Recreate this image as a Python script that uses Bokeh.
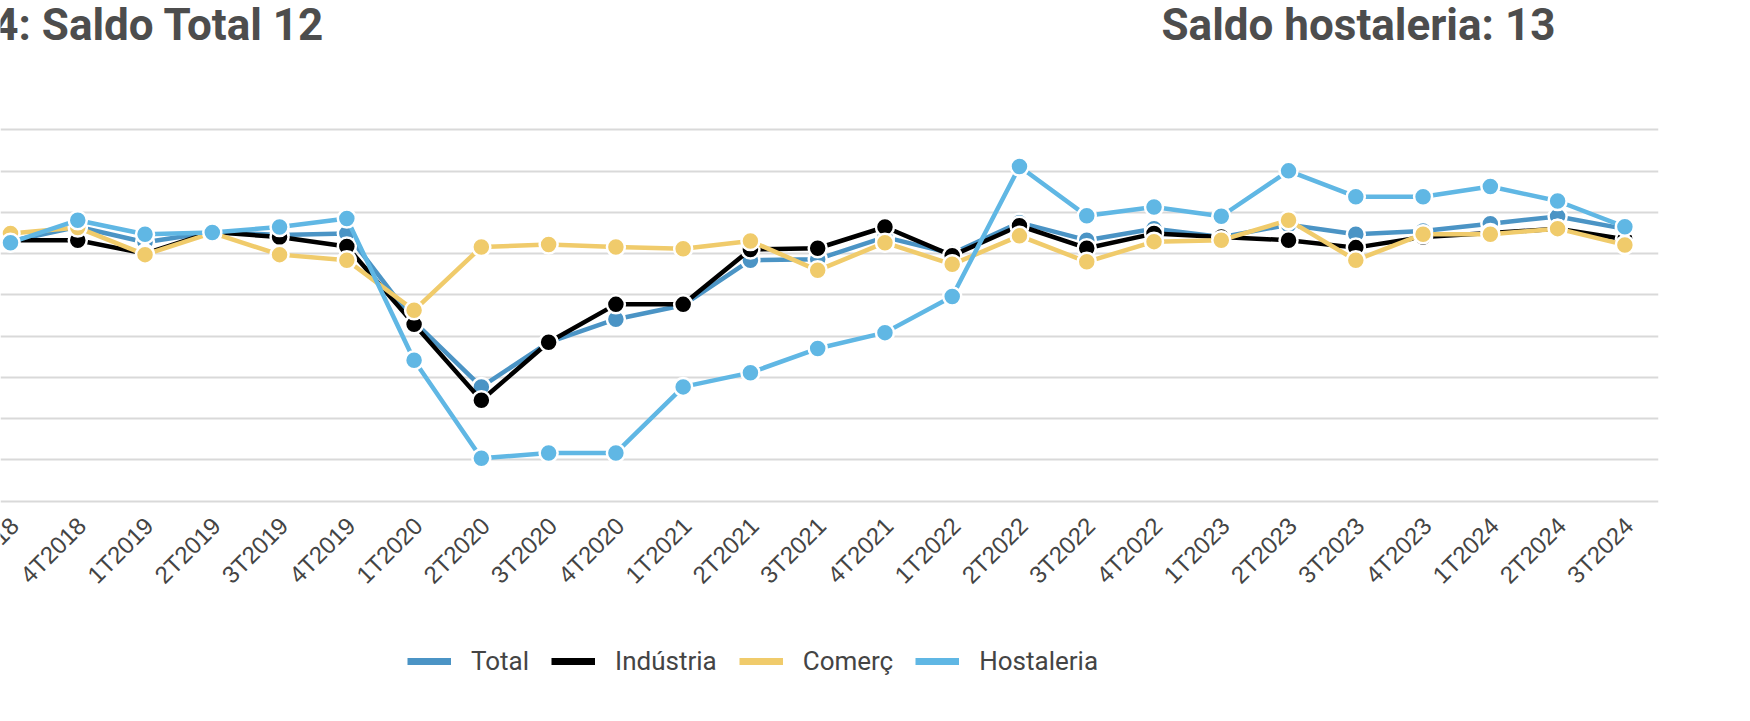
import math
from bokeh.plotting import figure
from bokeh.models import (Range1d, FixedTicker, Label, Legend, LegendItem, Grid,
                          ColumnDataSource)
from bokeh.core.properties import value
from bokeh.embed import file_html
from bokeh.resources import INLINE

categories = ["3T2018", "4T2018", "1T2019", "2T2019", "3T2019", "4T2019",
              "1T2020", "2T2020", "3T2020", "4T2020", "1T2021", "2T2021",
              "3T2021", "4T2021", "1T2022", "2T2022", "3T2022", "4T2022",
              "1T2023", "2T2023", "3T2023", "4T2023", "1T2024", "2T2024", "3T2024"]
total = [6, 13, 5.5, 10.5, 9, 9.7, -33, -64.6, -43, -31.8, -25, -3.2,
         -2.7, 8, 0, 15, 6.5, 12, 8, 14, 9.4, 11, 14.5, 18, 12]
industria = [6.5, 6.5, 0, 10.5, 8, 3.4, -34.3, -71.1, -43, -24.6, -24.6, 2,
             2.6, 12.9, -1, 13.5, 2.6, 9.7, 8, 6.5, 2.9, 8, 10, 12, 7]
comerc = [9.7, 12.6, -0.5, 10, -0.5, -3.2, -27.5, 3.2, 4.4, 3.2, 2.4, 6.1,
          -8.1, 5.3, -5.2, 8.6, -4, 5.8, 6.5, 16.2, -3.2, 9.4, 9.4, 12.1, 4.2]
hostaleria = [5.3, 16.2, 9.4, 10.2, 12.9, 17, -51.7, -99.2, -96.6, -96.6, -64.6, -57.7,
              -46, -38.3, -20.8, 42.2, 18.3, 22.6, 18.1, 40.1, 27.6, 27.6, 32.5, 25.5, 13]
series_names = ["Total", "Indústria", "Comerç", "Hostaleria"]
series_colors = ["#4b94c5", "#000000", "#f0cb6b", "#60b7e4"]
y_ticks = list(range(-120, 61, 20))
title_left = "4: Saldo Total 12"
title_right = "Saldo hostaleria: 13"

xs = list(range(len(categories)))

# pixel layout helpers
FRAME_W, FRAME_H = 1658, 705
PX_PER_Y = (500.7 - 129.3) / 180.0          # px per value unit
y_top = 60 + 129.3 / PX_PER_Y
y_bottom = 60 - (FRAME_H - 129.3) / PX_PER_Y
x_start = -10 / 67.27

p = figure(frame_width=FRAME_W, frame_height=FRAME_H,
           x_range=Range1d(x_start, 24.5), y_range=Range1d(y_bottom, y_top),
           output_backend="svg", toolbar_location=None,
           x_axis_location=None, y_axis_location=None,
           min_border_left=0, min_border_top=0, min_border_right=76, min_border_bottom=0)
p.outline_line_color = None
p.background_fill_color = "white"
p.border_fill_color = "white"
for g in p.grid:
    g.visible = False

p.add_layout(Grid(dimension=1, ticker=FixedTicker(ticks=y_ticks),
                  grid_line_color="#d9d9d9", grid_line_width=2))

# category labels (rotated, like the x axis of the original)
label_y = 60 - (521 - 129.3) / PX_PER_Y
p.text(x=xs, y=[label_y] * len(xs), text=categories, angle=math.pi / 4,
       text_align="right", text_baseline="middle", x_offset=4,
       text_font=value("Liberation Sans"), text_font_size=value("24px"),
       text_color="#444444")

all_values = [total, industria, comerc, hostaleria]
items = []
# legend swatch source: no drawable points in the plot, only used for the legend
swatch_src = ColumnDataSource(data=dict(x=xs, y=[float("nan")] * len(xs)))
for name, color, vals in zip(series_names, series_colors, all_values):
    src = ColumnDataSource(data=dict(x=xs, y=vals))
    p.line("x", "y", source=src, line_color=color, line_width=4.5)
    p.scatter("x", "y", source=src, size=18, fill_color=color,
              line_color="white", line_width=2.5)
    proxy = p.line("x", "y", source=swatch_src, line_color=color, line_width=7)
    items.append(LegendItem(label=name, renderers=[proxy]))

legend = Legend(items=items, orientation="horizontal", location=(407, 29),
                glyph_width=44, glyph_height=20, label_standoff=20, spacing=22,
                padding=0, margin=0, border_line_color=None, background_fill_alpha=0,
                label_text_font="Roboto", label_text_font_size="26px",
                label_text_color="#444444")
p.add_layout(legend)

for txt, x, align in [(title_left, 324, "right"), (title_right, 1161, "left")]:
    p.add_layout(Label(x=x, y=FRAME_H - 24, x_units="screen", y_units="screen", text=txt,
                       text_align=align, text_baseline="alphabetic",
                       text_font="Roboto", text_font_style="bold",
                       text_font_size="44px", text_color="#4d4d4d"))

open("out.html", "w").write(file_html(p, INLINE))
